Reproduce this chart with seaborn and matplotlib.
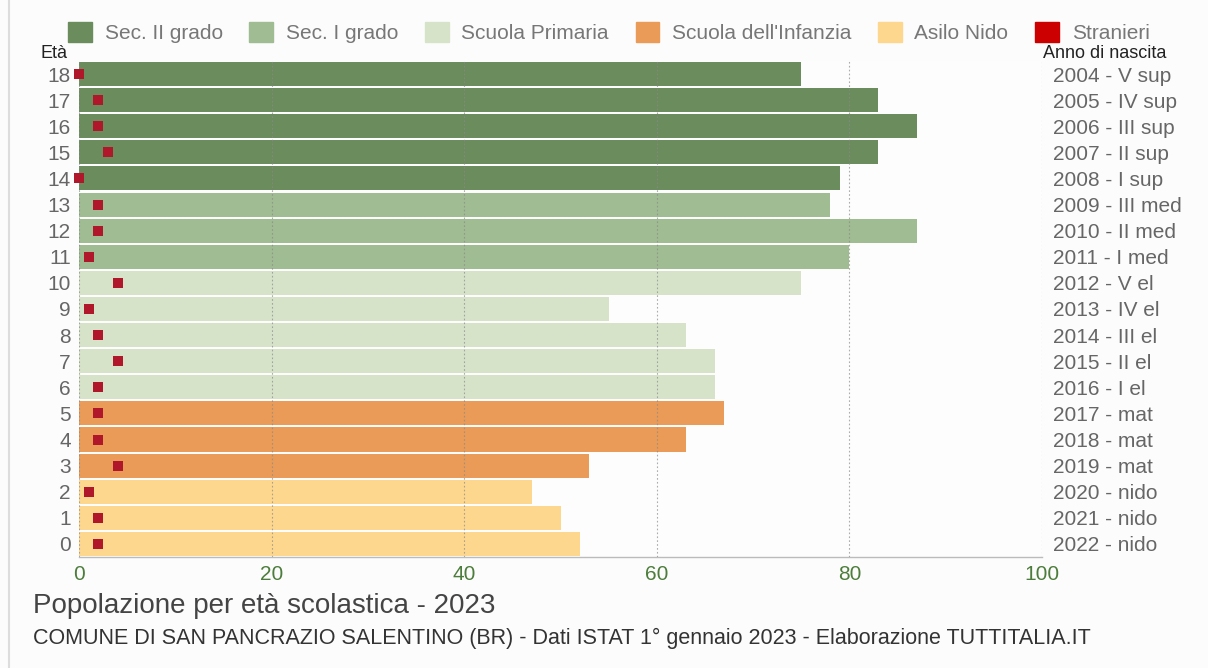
import matplotlib
matplotlib.use("Agg")
import matplotlib.pyplot as plt
import matplotlib.patches as mpatches
from matplotlib.lines import Line2D
import pandas as pd
import seaborn as sns

ages = ["18", "17", "16", "15", "14", "13", "12", "11", "10", "9",
        "8", "7", "6", "5", "4", "3", "2", "1", "0"]
totals = [75, 83, 87, 83, 79, 78, 87, 80, 75, 55, 63, 66, 66, 67, 63, 53, 47, 50, 52]
stranieri = [0, 2, 2, 3, 0, 2, 2, 1, 4, 1, 2, 4, 2, 2, 2, 4, 1, 2, 2]
levels = ["Sec. II grado"] * 5 + ["Sec. I grado"] * 3 + ["Scuola Primaria"] * 5 \
    + ["Scuola dell'Infanzia"] * 3 + ["Asilo Nido"] * 3
birth_labels = ["2004 - V sup", "2005 - IV sup", "2006 - III sup", "2007 - II sup",
                "2008 - I sup", "2009 - III med", "2010 - II med", "2011 - I med",
                "2012 - V el", "2013 - IV el", "2014 - III el", "2015 - II el",
                "2016 - I el", "2017 - mat", "2018 - mat", "2019 - mat",
                "2020 - nido", "2021 - nido", "2022 - nido"]
level_order = ["Sec. II grado", "Sec. I grado", "Scuola Primaria",
               "Scuola dell'Infanzia", "Asilo Nido"]
level_colors = ["#6b8c5d", "#a0bc93", "#d6e3c9", "#e99b57", "#fed78f"]

df = pd.DataFrame({"age": ages, "total": totals, "level": levels, "stranieri": stranieri})

sns.set_theme(style="white")
plt.rcParams["font.family"] = ["Liberation Sans", "DejaVu Sans"]

fig = plt.figure(figsize=(12.08, 6.68), dpi=100, facecolor="#fcfcfc")
ax = fig.add_axes([0.0654, 0.1662, 0.7972, 0.7425])
ax.set_facecolor("#fdfdfd")

sns.barplot(data=df, x="total", y="age", hue="level", order=ages, hue_order=level_order,
            palette=level_colors, saturation=1, dodge=False, width=0.92,
            edgecolor="none", legend=False, ax=ax)
sns.stripplot(data=df, x="stranieri", y="age", order=ages, jitter=False, marker="s",
              size=7, color="#b1172b", linewidth=0, ax=ax, zorder=5)
for coll in ax.collections:
    coll.set_clip_on(False)

ax.set_xlim(0, 100)
ax.set_ylim(len(ages) - 0.5, -0.5)
ax.set_xticks([0, 20, 40, 60, 80, 100])
ax.set_xlabel("")
ax.set_ylabel("")
ax.tick_params(axis="x", colors="#4d7d3c", labelsize=15, length=0, pad=6)
ax.tick_params(axis="y", colors="#666666", labelsize=15, length=0, pad=6)
ax.xaxis.grid(True, linestyle=(0, (1.5, 2)), color="#8a8a8a", linewidth=0.8, alpha=0.7)
ax.set_axisbelow(False)
for side in ["top", "left", "right"]:
    ax.spines[side].set_visible(False)
ax.spines["bottom"].set_color("#bbbbbb")
ax.spines["bottom"].set_linewidth(1)

ax2 = ax.twinx()
ax2.set_ylim(ax.get_ylim())
ax2.set_yticks(range(len(ages)))
ax2.set_yticklabels(birth_labels)
ax2.tick_params(axis="y", colors="#666666", labelsize=15, length=0, pad=8)
for side in ["top", "left", "right", "bottom"]:
    ax2.spines[side].set_visible(False)

handles = [mpatches.Patch(color=c, label=l) for c, l in zip(level_colors, level_order)]
handles.append(mpatches.Patch(color="#cc0000", label="Stranieri"))
leg = fig.legend(handles=handles, loc="center", bbox_to_anchor=(0.504, 0.951), ncol=6,
                 frameon=False, fontsize=15, handlelength=1.15, handleheight=1.05,
                 columnspacing=1.28, handletextpad=0.6)
for t in leg.get_texts():
    t.set_color("#777777")

fig.text(40 / 1208, 1 - 53 / 668, "Età", fontsize=13, color="#222222", va="center")
fig.text(1043 / 1208, 1 - 54 / 668, "Anno di nascita", fontsize=13, color="#222222",
         va="center")
fig.text(33 / 1208, 1 - 606 / 668, "Popolazione per età scolastica - 2023", fontsize=20,
         color="#444444", va="center")
fig.text(33 / 1208, 1 - 638 / 668,
         "COMUNE DI SAN PANCRAZIO SALENTINO (BR) - Dati ISTAT 1° gennaio 2023 - Elaborazione TUTTITALIA.IT",
         fontsize=15.5, color="#333333", va="center")
fig.add_artist(Line2D([9 / 1208, 9 / 1208], [0, 1], color="#dddddd", linewidth=1.5))

fig.savefig("out.png", dpi=100, facecolor=fig.get_facecolor())
